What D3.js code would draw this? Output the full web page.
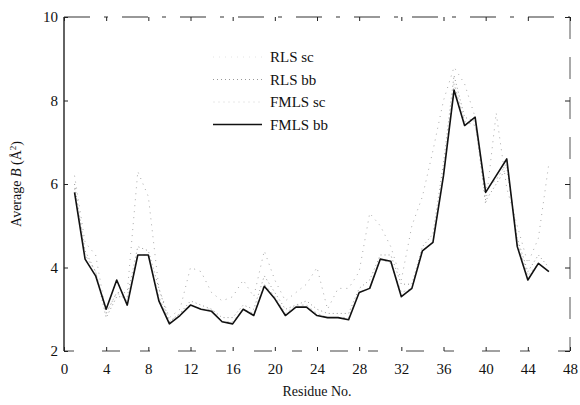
<!DOCTYPE html>
<html>
<head>
<meta charset="utf-8">
<script src="https://cdn.jsdelivr.net/npm/d3@7"></script>
<style>
  html, body { margin: 0; padding: 0; background: #fff; }
  svg { display: block; }
  text { font-family: "Liberation Serif", "DejaVu Serif", serif; fill: #111; }
</style>
</head>
<body>
<svg id="chart" width="580" height="405"></svg>
<script>
// Residue numbers 1..46
var residues = d3.range(1, 47);

// Average B values
var rlsSc = [6.2, 4.6, 4.3, 2.9, 3.4, 3.4, 6.3, 5.7, 3.5, 2.8,
             3.0, 4.0, 3.9, 3.4, 3.2, 3.3, 3.7, 3.3, 4.4, 3.7,
             3.2, 3.4, 3.6, 4.0, 3.0, 3.5, 3.5, 3.9, 5.3, 5.0,
             4.5, 3.7, 5.0, 5.7, 6.8, 8.0, 8.8, 8.4, 7.6, 5.5,
             7.7, 5.9, 5.0, 4.1, 4.7, 6.5];
var rlsBb = [6.0, 4.4, 3.9, 2.8, 3.3, 3.3, 4.5, 4.4, 3.5, 2.7,
             2.9, 3.2, 3.1, 3.0, 2.8, 2.8, 3.1, 3.0, 3.8, 3.4,
             3.0, 3.1, 3.2, 3.0, 2.9, 2.9, 2.9, 3.5, 3.7, 4.3,
             4.3, 3.6, 3.6, 4.5, 4.8, 6.5, 8.6, 7.6, 7.5, 5.6,
             6.0, 6.4, 4.7, 3.9, 4.3, 4.0];
var fmlsSc = [5.9, 4.3, 3.9, 2.9, 3.4, 3.2, 4.3, 4.3, 3.3, 2.7,
              2.9, 3.1, 3.0, 3.0, 2.7, 2.7, 3.0, 2.9, 3.6, 3.3,
              2.9, 3.1, 3.1, 2.9, 2.8, 2.8, 2.8, 3.4, 3.5, 4.2,
              4.1, 3.4, 3.5, 4.4, 4.6, 6.3, 8.4, 7.5, 7.4, 5.9,
              6.1, 6.5, 4.6, 3.8, 4.1, 3.9];
var fmlsBb = [5.8, 4.2, 3.8, 3.0, 3.7, 3.1, 4.3, 4.3, 3.2, 2.65,
              2.85, 3.1, 3.0, 2.95, 2.7, 2.65, 3.0, 2.85, 3.55, 3.25,
              2.85, 3.05, 3.05, 2.85, 2.8, 2.8, 2.75, 3.4, 3.5, 4.2,
              4.15, 3.3, 3.5, 4.4, 4.6, 6.2, 8.25, 7.4, 7.6, 5.8,
              6.2, 6.6, 4.5, 3.7, 4.1, 3.9];

var seriesNames = ["RLS sc", "RLS bb", "FMLS sc", "FMLS bb"];
var xTicks = d3.range(0, 49, 4);
var yTicks = [2, 4, 6, 8, 10];

var svg = d3.select("#chart");
var L = 64, R = 570, T = 17, B = 351;

var x = d3.scaleLinear().domain([0, 48]).range([L, R]);
var y = d3.scaleLinear().domain([2, 10]).range([B, T]);

// frame (the scanned original has broken top/bottom rules)
svg.append("line").attr("x1", L).attr("x2", L).attr("y1", T).attr("y2", B)
  .attr("stroke", "#222").attr("stroke-width", 1.4);
svg.append("line").attr("x1", R).attr("x2", R).attr("y1", T).attr("y2", B)
  .attr("stroke", "#555").attr("stroke-width", 1).attr("stroke-dasharray", "22,18");
svg.append("line").attr("x1", L).attr("x2", R).attr("y1", T).attr("y2", T)
  .attr("stroke", "#333").attr("stroke-width", 1.2).attr("stroke-dasharray", "26,14,4,14");
svg.append("line").attr("x1", L).attr("x2", R).attr("y1", B).attr("y2", B)
  .attr("stroke", "#444").attr("stroke-width", 1).attr("stroke-dasharray", "10,28,18,20");

// axes with inward ticks
var xAxis = svg.append("g").attr("transform", "translate(0," + B + ")")
  .call(d3.axisBottom(x).tickValues(xTicks).tickSize(-4).tickPadding(12).tickFormat(d3.format("d")));
var xTop = svg.append("g").attr("transform", "translate(0," + T + ")")
  .call(d3.axisTop(x).tickValues(xTicks).tickSize(-4).tickFormat(""));
var yAxis = svg.append("g").attr("transform", "translate(" + L + ",0)")
  .call(d3.axisLeft(y).tickValues(yTicks).tickSize(-4).tickPadding(6).tickFormat(d3.format("d")));
var yRight = svg.append("g").attr("transform", "translate(" + R + ",0)")
  .call(d3.axisRight(y).tickValues(yTicks).tickSize(-5).tickFormat(""));

[xAxis, xTop, yAxis, yRight].forEach(function (g) {
  g.select(".domain").remove();
  g.selectAll(".tick line").attr("stroke", "#222");
  g.selectAll("text").style("font-size", "15px").attr("fill", "#111");
});

// axis titles
svg.append("text").attr("x", (L + R) / 2).attr("y", 396)
  .attr("text-anchor", "middle").style("font-size", "14px").text("Residue No.");
var yt = svg.append("text")
  .attr("transform", "translate(21," + ((T + B) / 2) + ") rotate(-90)")
  .attr("text-anchor", "middle").style("font-size", "14px");
yt.append("tspan").text("Average ");
yt.append("tspan").style("font-style", "italic").text("B");
yt.append("tspan").text(" (Å");
yt.append("tspan").attr("dy", -5).style("font-size", "9px").text("2");
yt.append("tspan").attr("dy", 5).text(")");

// lines
var line = d3.line().x(function (d) { return x(d[0]); }).y(function (d) { return y(d[1]); });
function pts(vals) { return residues.map(function (r, i) { return [r, vals[i]]; }); }

var styles = [
  { data: rlsSc,  stroke: "#aaa", width: 1,   dash: "1,5",  legend: "#e4e4e4" },
  { data: rlsBb,  stroke: "#999", width: 1,   dash: "1,3",  legend: "#999" },
  { data: fmlsSc, stroke: "#c4c4c4", width: 1, dash: "2,3", legend: "#e8e8e8" },
  { data: fmlsBb, stroke: "#111", width: 1.6, dash: null,   legend: "#111" }
];

styles.forEach(function (s) {
  svg.append("path").datum(pts(s.data)).attr("d", line)
    .attr("fill", "none").attr("stroke", s.stroke).attr("stroke-width", s.width)
    .attr("stroke-dasharray", s.dash).attr("stroke-linejoin", "round");
});

// legend
var leg = svg.append("g");
seriesNames.forEach(function (n, i) {
  var ly = 57 + i * 22.5;
  var s = styles[i];
  leg.append("line").attr("x1", 213).attr("x2", 262).attr("y1", ly).attr("y2", ly)
    .attr("stroke", s.legend).attr("stroke-width", s.width).attr("stroke-dasharray", s.dash);
  leg.append("text").attr("x", 270).attr("y", ly + 5).style("font-size", "15px").text(n);
});
</script>
</body>
</html>
